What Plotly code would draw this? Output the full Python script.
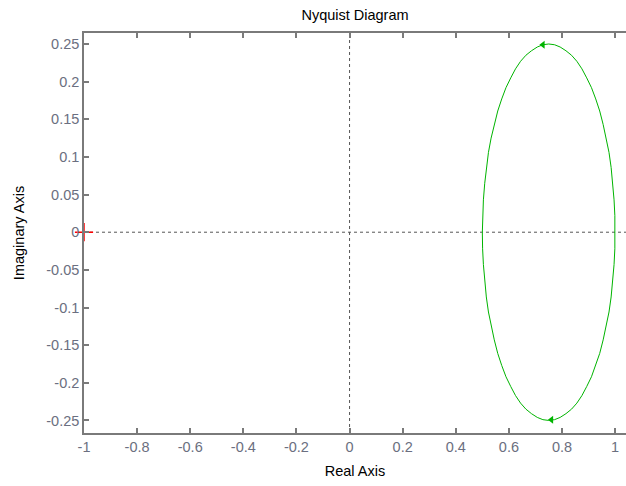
import plotly.graph_objects as go

# Nyquist curve (real, imaginary), positive half then mirrored half
upper_re = [0.500, 0.501, 0.504, 0.509, 0.515, 0.523, 0.533, 0.545, 0.558, 0.573, 0.589,
            0.607, 0.625, 0.644, 0.664, 0.685, 0.707, 0.728, 0.750, 0.772, 0.793, 0.815,
            0.836, 0.856, 0.875, 0.893, 0.911, 0.927, 0.942, 0.955, 0.967, 0.977, 0.985,
            0.991, 0.996, 0.999, 1.000]
upper_im = [0.000, 0.022, 0.043, 0.065, 0.086, 0.106, 0.125, 0.143, 0.161, 0.177, 0.192,
            0.205, 0.217, 0.227, 0.235, 0.241, 0.246, 0.249, 0.250, 0.249, 0.246, 0.241,
            0.235, 0.227, 0.217, 0.205, 0.192, 0.177, 0.161, 0.143, 0.125, 0.106, 0.086,
            0.065, 0.043, 0.022, 0.000]
lower_re = [1.000, 0.999, 0.996, 0.991, 0.985, 0.977, 0.967, 0.955, 0.942, 0.927, 0.911,
            0.893, 0.875, 0.856, 0.836, 0.815, 0.793, 0.772, 0.750, 0.728, 0.707, 0.685,
            0.664, 0.644, 0.625, 0.607, 0.589, 0.573, 0.558, 0.545, 0.533, 0.523, 0.515,
            0.509, 0.504, 0.501, 0.500]
lower_im = [0.000, -0.022, -0.043, -0.065, -0.086, -0.106, -0.125, -0.143, -0.161, -0.177,
            -0.192, -0.205, -0.217, -0.227, -0.235, -0.241, -0.246, -0.249, -0.250, -0.249,
            -0.246, -0.241, -0.235, -0.227, -0.217, -0.205, -0.192, -0.177, -0.161, -0.143,
            -0.125, -0.106, -0.086, -0.065, -0.043, -0.022, 0.000]

# arrow positions (real, imag)
arrow_re = [0.728, 0.760]
arrow_im = [0.249, -0.249]

# critical point
crit_re = [-1.0]
crit_im = [0.0]

x_ticks = [-1, -0.8, -0.6, -0.4, -0.2, 0, 0.2, 0.4, 0.6, 0.8, 1]
x_labels = ["-1", "-0.8", "-0.6", "-0.4", "-0.2", "0", "0.2", "0.4", "0.6", "0.8", "1"]
y_ticks = [-0.25, -0.2, -0.15, -0.1, -0.05, 0, 0.05, 0.1, 0.15, 0.2, 0.25]
y_labels = ["-0.25", "-0.2", "-0.15", "-0.1", "-0.05", "0", "0.05", "0.1", "0.15", "0.2", "0.25"]

GREEN = "#00b400"
AXIS = "#7a7a7a"
FAMILY = "Liberation Sans, Arial, sans-serif"
FS = 14.5
TICKFONT = dict(family=FAMILY, size=FS, color="#6b6f80")
TITLEFONT = dict(family=FAMILY, size=FS, color="#000000")

fig = go.Figure()

fig.add_trace(go.Scatter(x=upper_re + lower_re[1:], y=upper_im + lower_im[1:],
                         mode="lines", line=dict(color=GREEN, width=1),
                         hoverinfo="skip", showlegend=False))
fig.add_trace(go.Scatter(x=arrow_re, y=arrow_im, mode="markers",
                         marker=dict(symbol="triangle-left", size=7, color=GREEN),
                         hoverinfo="skip", showlegend=False))
fig.add_trace(go.Scatter(x=crit_re, y=crit_im, mode="markers",
                         marker=dict(symbol="cross-thin", size=13,
                                     line=dict(color="#ff0000", width=1.5)),
                         hoverinfo="skip", showlegend=False, cliponaxis=False))

fig.add_hline(y=0, line=dict(color="#555555", width=1, dash="3px,3px"), layer="below")
fig.add_vline(x=0, line=dict(color="#555555", width=1, dash="3px,3px"), layer="below")

fig.update_layout(
    width=626, height=486,
    margin=dict(l=84, r=0, t=33, b=53),
    paper_bgcolor="white", plot_bgcolor="white",
    title=dict(text="Nyquist Diagram", x=0.5, xanchor="center", xref="paper",
               y=1 - 15 / 486, yref="container", yanchor="middle", font=TITLEFONT),
    font=dict(family=FAMILY, size=FS),
)

fig.update_xaxes(range=[-1, 1.041], tickvals=x_ticks, ticktext=x_labels,
                 showgrid=False, zeroline=False, showline=True, linecolor=AXIS, linewidth=1.5,
                 mirror="ticks", ticks="inside", ticklen=5, tickcolor=AXIS, tickwidth=1.5,
                 tickfont=TICKFONT,
                 title=dict(text="Real Axis", standoff=12, font=TITLEFONT))
fig.update_yaxes(range=[-0.2667, 0.2646], tickvals=y_ticks, ticktext=y_labels,
                 showgrid=False, zeroline=False, showline=True, linecolor=AXIS, linewidth=1.5,
                 ticks="inside", ticklen=5, tickcolor=AXIS, tickwidth=1.5,
                 tickfont=TICKFONT,
                 title=dict(text="Imaginary Axis", standoff=18, font=TITLEFONT))

fig.write_html("out.html")
